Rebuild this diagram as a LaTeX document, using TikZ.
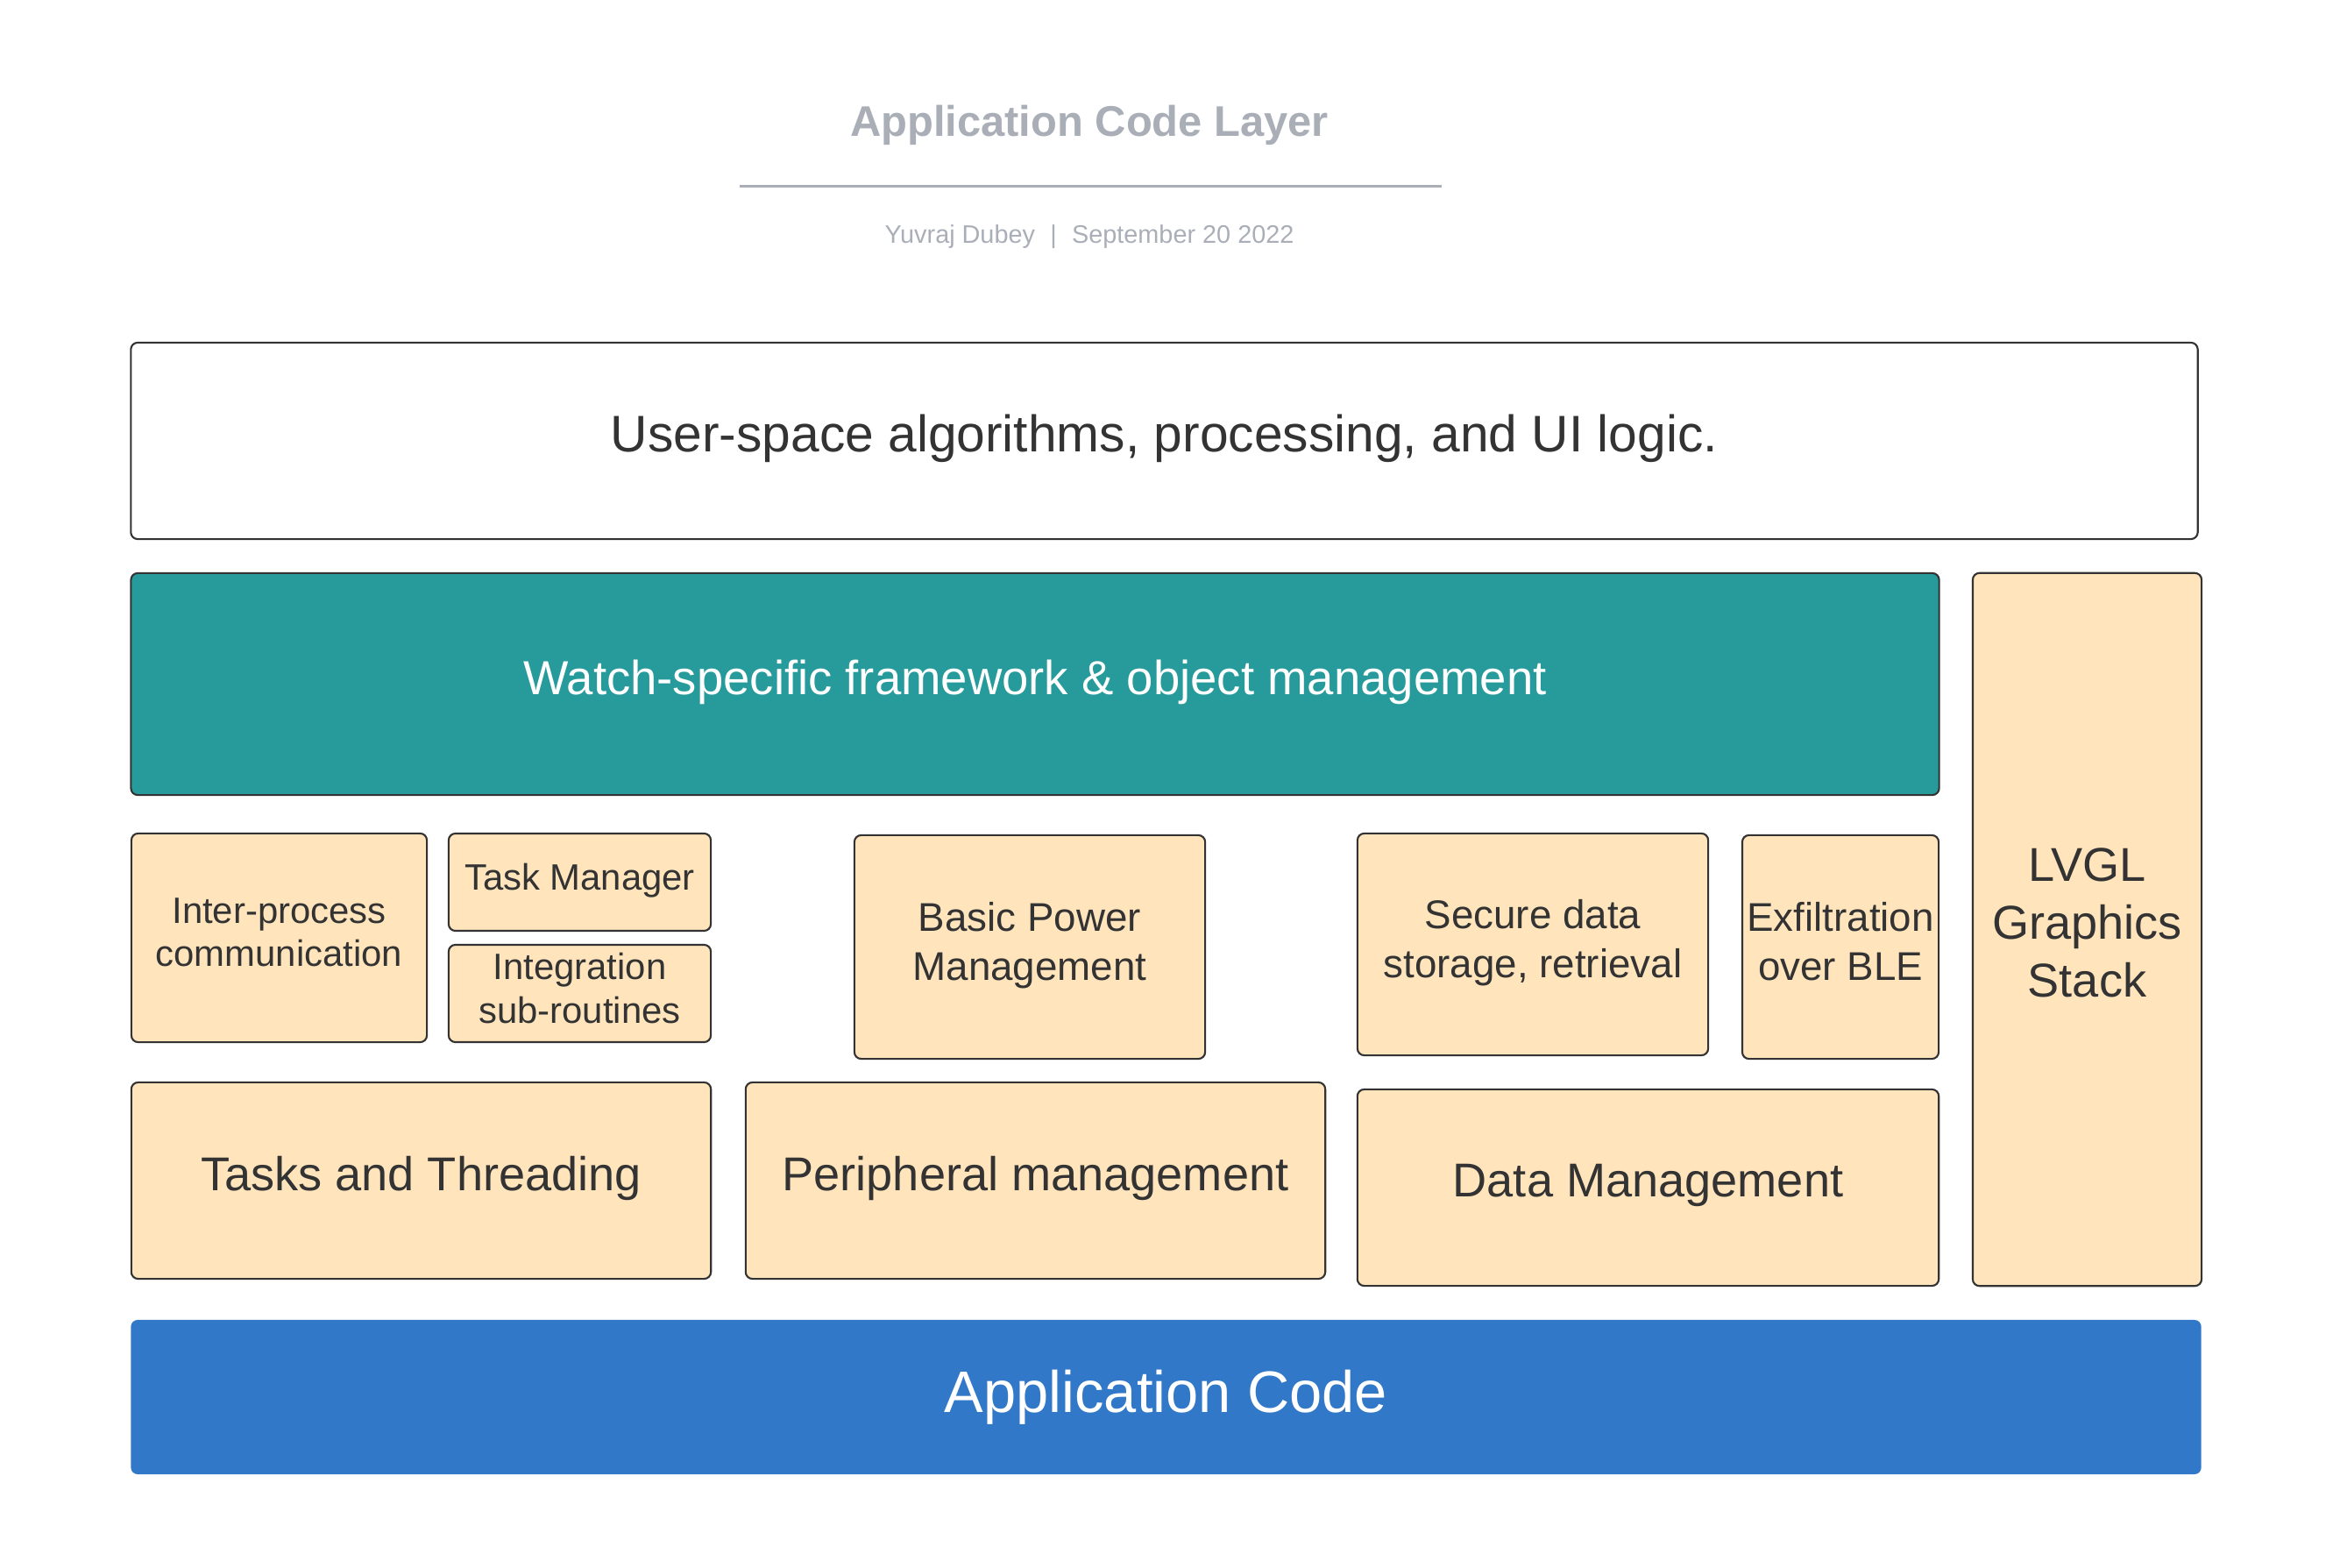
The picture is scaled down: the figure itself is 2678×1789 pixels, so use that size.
\documentclass[tikz,border=0pt]{standalone}
\usepackage{fontspec}
\setmainfont{Liberation Sans}
\definecolor{beige}{HTML}{FFE4BC}
\definecolor{teal}{HTML}{279B9B}
\definecolor{appblue}{HTML}{3178C8}
\definecolor{ink}{HTML}{333333}
\definecolor{edge}{HTML}{333333}
\definecolor{greyline}{HTML}{A9AEB7}
\newcommand\lowstrut{\rule[-0.3em]{0pt}{0.3em}}
\begin{document}
\begin{tikzpicture}[x=0.01cm,y=-0.01cm,line width=0.6pt,
  every node/.style={inner sep=0pt,align=center,text=ink},
  blk/.style={draw=edge,fill=beige,rounded corners=2.2pt,execute at end node=\lowstrut},
  big/.style={font=\fontsize{15.4pt}{18.8pt}\selectfont},
  mid/.style={font=\fontsize{13pt}{15.9pt}\selectfont},
  sml/.style={font=\fontsize{11.9pt}{14.1pt}\selectfont}]
\useasboundingbox (0,0) rectangle (2678,1789);
\coordinate (lineL) at (844,213);
\coordinate (lineR) at (1645,213);
\node[text=greyline,font=\fontsize{13.9pt}{16pt}\selectfont\bfseries] (title) at (1243,143) {Application Code Layer};
\draw[greyline,line width=0.85pt] (lineL) -- (lineR);
\node[text=greyline,font=\fontsize{8.2pt}{10pt}\selectfont] (byline) at (1243,270) {Yuvraj Dubey\hspace{0.6em}|\hspace{0.6em}September 20 2022};
\node[blk,fill=white,minimum width=23.57cm,minimum height=2.24cm,font=\fontsize{16.7pt}{20pt}\selectfont] (user) at (1328.5,503) {User-space algorithms, processing, and UI logic.};
\node[blk,fill=teal,text=white,minimum width=20.62cm,minimum height=2.53cm,font=\fontsize{15.5pt}{19pt}\selectfont] (watch) at (1181,780.5) {Watch-specific framework \& object management};
\node[blk,big,minimum width=2.61cm,minimum height=8.13cm] (lvgl) at (2381.5,1060.5) {LVGL\\Graphics\\Stack};
\node[blk,sml,minimum width=3.37cm,minimum height=2.38cm] (ipc) at (318.5,1070) {Inter-process\\communication};
\node[blk,sml,minimum width=2.99cm,minimum height=1.11cm] (taskmgr) at (661.5,1006.5) {Task Manager};
\node[blk,sml,minimum width=2.99cm,minimum height=1.11cm] (integ) at (661.5,1133.5) {Integration\\sub-routines};
\node[blk,mid,minimum width=4cm,minimum height=2.55cm] (power) at (1175,1080.5) {Basic Power\\Management};
\node[blk,mid,minimum width=4cm,minimum height=2.53cm] (secure) at (1749,1077.5) {Secure data\\storage, retrieval};
\node[blk,mid,minimum width=2.24cm,minimum height=2.55cm] (exfil) at (2100,1080.5) {Exfiltration\\over BLE};
\node[blk,big,minimum width=6.61cm,minimum height=2.24cm] (tasks) at (480.5,1347) {Tasks and Threading};
\node[blk,big,minimum width=6.61cm,minimum height=2.24cm] (periph) at (1181.5,1347) {Peripheral management};
\node[blk,big,minimum width=6.63cm,minimum height=2.24cm] (datamgmt) at (1880.5,1355) {Data Management};
\node[fill=appblue,text=white,rounded corners=2.2pt,minimum width=23.61cm,minimum height=1.76cm,font=\fontsize{19pt}{23pt}\selectfont] (appcode) at (1330.5,1594) {Application Code};
\end{tikzpicture}
\end{document}
